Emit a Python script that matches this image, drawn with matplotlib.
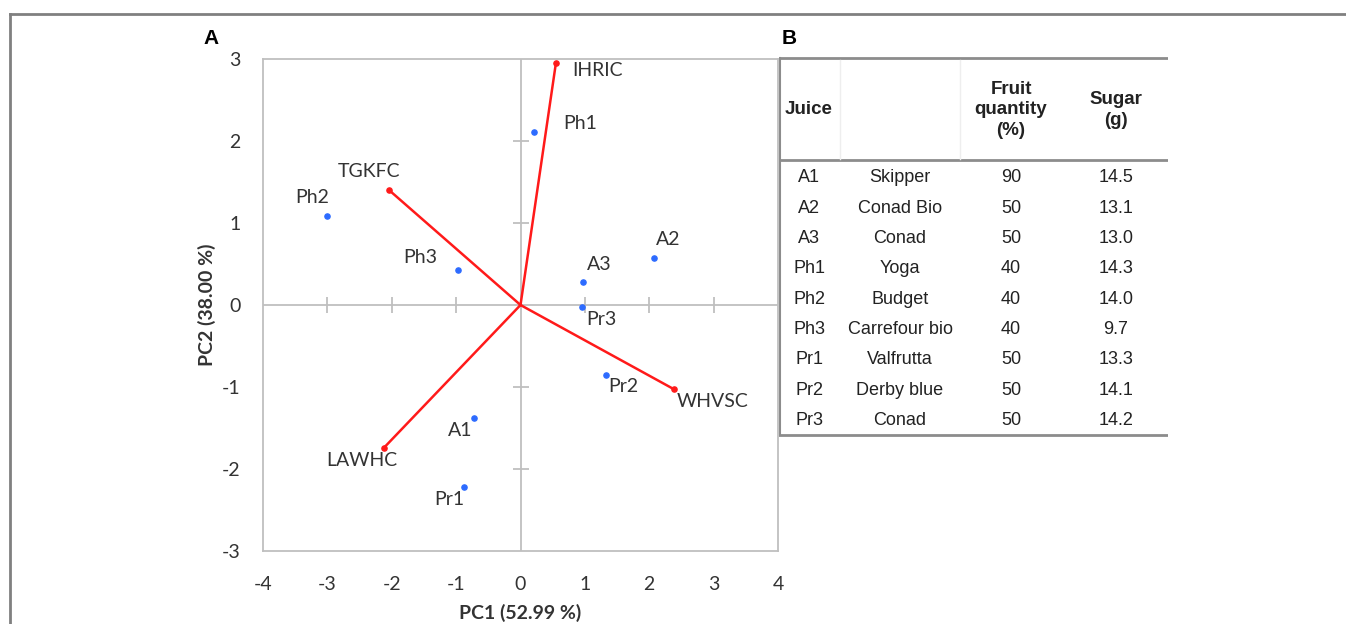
import matplotlib.pyplot as plt
from matplotlib.lines import Line2D

plt.rcParams["axes.unicode_minus"] = False

# PCA scores
samples = ["A1", "A2", "A3", "Ph1", "Ph2", "Ph3", "Pr1", "Pr2", "Pr3"]
pc1 = [-0.72, 2.07, 0.97, 0.21, -3.00, -0.97, -0.87, 1.33, 0.96]
pc2 = [-1.38, 0.57, 0.28, 2.11, 1.09, 0.43, -2.22, -0.85, -0.02]

# loadings (vectors)
variables = ["IHRIC", "TGKFC", "LAWHC", "WHVSC"]
load1 = [0.55, -2.04, -2.12, 2.39]
load2 = [2.95, 1.40, -1.74, -1.03]

# table B
juice = ["A1", "A2", "A3", "Ph1", "Ph2", "Ph3", "Pr1", "Pr2", "Pr3"]
brand = ["Skipper", "Conad Bio", "Conad", "Yoga", "Budget", "Carrefour bio",
         "Valfrutta", "Derby blue", "Conad"]
fruit = ["90", "50", "50", "40", "40", "40", "50", "50", "50"]
sugar = ["14.5", "13.1", "13.0", "14.3", "14.0", "9.7", "13.3", "14.1", "14.2"]

# label offsets (data units) and alignment
lab_off = {"A1": (-0.22, -0.15, "center"), "A2": (0.04, 0.23, "left"),
           "A3": (0.06, 0.21, "left"), "Ph1": (0.45, 0.10, "left"),
           "Ph2": (-0.23, 0.22, "center"), "Ph3": (-0.59, 0.15, "center"),
           "Pr1": (-0.24, -0.15, "center"), "Pr2": (0.04, -0.14, "left"),
           "Pr3": (0.06, -0.16, "left"),
           "IHRIC": (0.25, -0.09, "left"), "TGKFC": (-0.32, 0.23, "center"),
           "LAWHC": (-0.35, -0.16, "center"), "WHVSC": (0.04, -0.15, "left")}

W, H = 1346, 624
fig = plt.figure(figsize=(W / 100, H / 100), dpi=100)

def box(x0, y0, x1, y1):
    return [x0 / W, 1 - y1 / H, (x1 - x0) / W, (y1 - y0) / H]

txt = "#333333"
grid = "#bfbfbf"
font = "Lato"

# outer frame (left + top)
fig.add_artist(Line2D([10 / W, 10 / W], [0, 1 - 14 / H], color="#808080", lw=2))
fig.add_artist(Line2D([10 / W, 1], [1 - 14 / H, 1 - 14 / H], color="#808080", lw=2))

# ---------- panel A ----------
ax = fig.add_axes(box(263, 59, 778, 551))
ax.set_xlim(-4, 4)
ax.set_ylim(-3, 3)
for s in ax.spines.values():
    s.set_color(grid)
    s.set_linewidth(1.3)
ax.axhline(0, color=grid, lw=1.3, zorder=1)
ax.axvline(0, color=grid, lw=1.3, zorder=1)
ticks_x = [-3, -2, -1, 1, 2, 3]
ticks_y = [-2, -1, 1, 2]
ax.plot(ticks_x, [0] * len(ticks_x), ls="none", marker="|", ms=11, mew=1.3, color=grid, zorder=1)
ax.plot([0] * len(ticks_y), ticks_y, ls="none", marker="_", ms=11, mew=1.3, color=grid, zorder=1)

ax.set_xticks(range(-4, 5))
ax.set_yticks(range(-3, 4))
ax.tick_params(axis="x", length=0, labelsize=14, labelcolor=txt, pad=18)
ax.tick_params(axis="y", length=0, labelsize=14, labelcolor=txt, pad=16)
for lab in ax.get_xticklabels() + ax.get_yticklabels():
    lab.set_fontfamily(font)

for x, y in zip(load1, load2):
    ax.plot([0, x], [0, y], color="#ff1a1a", lw=1.8, zorder=3)
ax.scatter(load1, load2, s=14, color="#ff1a1a", zorder=4)
ax.scatter(pc1, pc2, s=14, color="#2d6bff", zorder=4)

for name, x, y in list(zip(samples, pc1, pc2)) + list(zip(variables, load1, load2)):
    dx, dy, ha = lab_off[name]
    ax.text(x + dx, y + dy, name, ha=ha, va="center", fontsize=14,
            color=txt, family=font)

ax.set_xlabel("PC1 (52.99 %)", fontsize=14, fontweight="bold", color=txt,
              family=font, labelpad=8)
ax.set_ylabel("PC2 (38.00 %)", fontsize=14, fontweight="bold", color=txt,
              family=font, labelpad=4)

fig.text(203 / W, 1 - 38 / H, "A", fontsize=15, fontweight="bold",
         family="Liberation Sans", va="center")
fig.text(782 / W, 1 - 38 / H, "B", fontsize=15, fontweight="bold",
         family="Liberation Sans", va="center")

# ---------- panel B (table) ----------
tx = fig.add_axes(box(779, 50, 1168, 445))
tx.set_xlim(779, 1168)
tx.set_ylim(445, 50)
tx.axis("off")
tcol = "#222222"
tx.plot([779, 1167], [58, 58], color="#8c8c8c", lw=2)
tx.plot([779, 1167], [160, 160], color="#8c8c8c", lw=2)
tx.plot([779, 1167], [435, 435], color="#8c8c8c", lw=2)
tx.plot([780, 780], [58, 435], color="#8c8c8c", lw=1.5)
tx.plot([840, 840], [60, 159], color="#eeeeee", lw=1)
tx.plot([960, 960], [60, 159], color="#eeeeee", lw=1)

cols = [809, 900, 1011, 1116]
hdr = dict(fontsize=13.5, fontweight="bold", color=tcol, family="Liberation Sans",
           ha="center", va="center", linespacing=1.25)
tx.text(cols[0], 110, "Juice", **hdr)
tx.text(cols[2], 110, "Fruit\nquantity\n(%)", **hdr)
tx.text(cols[3], 110, "Sugar\n(g)", **hdr)

row_y = 178
for j, b, f, s in zip(juice, brand, fruit, sugar):
    for cx, val in zip(cols, [j, b, f, s]):
        tx.text(cx, row_y, val, fontsize=13, color=tcol, family="Liberation Sans",
                ha="center", va="center")
    row_y += 30.3

fig.savefig("out.png", dpi=100, facecolor="white")
